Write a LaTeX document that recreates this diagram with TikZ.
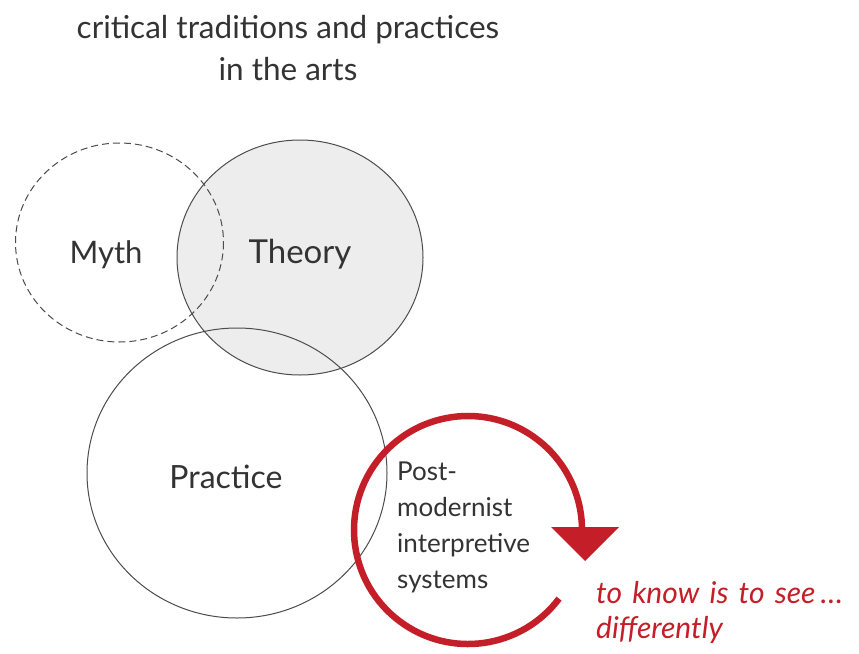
\documentclass[tikz,border=0pt]{standalone}
\usepackage{fontspec}
\setmainfont{Lato}
\begin{document}
\begin{tikzpicture}[x=1pt,y=-1pt,
  ring/.style={draw=black!70,line width=1pt},
  label/.style={text=black!80,inner sep=0pt,anchor=base},
  redink/.style={color={rgb,255:red,196;green,30;blue,40}}]
\useasboundingbox (0,0) rectangle (859,653);
\fill[white] (0,0) rectangle (859,653);

% circles
\fill[black!7] (300,257.5) ellipse[x radius=123,y radius=117.5];
\draw[ring] (300,257.5) ellipse[x radius=123,y radius=117.5];
\draw[ring,dash pattern=on 7pt off 4pt] (119.5,242.5) ellipse[x radius=104,y radius=99.5];
\draw[ring] (237,473) ellipse[x radius=150,y radius=145];

% title (anchored at the baseline of its last line)
\node[label,align=center,font=\fontsize{31.5}{42}\selectfont] (title) at (288,80)
  {critical traditions and practices\\in the arts};

% circle labels
\node[label,font=\fontsize{31}{40}\selectfont] (myth) at (106,263) {Myth};
\node[label,font=\fontsize{33}{40}\selectfont] (theory) at (300,263) {Theory};
\node[label,font=\fontsize{32}{40}\selectfont] (practice) at (226,488) {Practice};

% red loop with arrowhead
\coordinate (loop) at (468,530);
\draw[redink,line width=6.5pt] (loop) ++(37:114) arc[start angle=37,end angle=359,radius=114];
\coordinate (tipL) at (551,527);
\coordinate (tipR) at (619,527);
\coordinate (tip) at (585,561);
\fill[redink] (tipL) -- (tipR) -- (tip) -- cycle;

% labels beside the loop (anchored at the baseline of their last line)
\node[label,anchor=base west,align=left,font=\fontsize{26}{36}\selectfont] (post) at (397,588)
  {Post-\\modernist\\interpretive\\systems};
\node[label,anchor=base west,align=left,redink,font=\itshape\fontsize{30}{35}\selectfont] (know) at (596,638)
  {\spaceskip=0.34em to know is to see\,\ldots\\differently};
\end{tikzpicture}
\end{document}
